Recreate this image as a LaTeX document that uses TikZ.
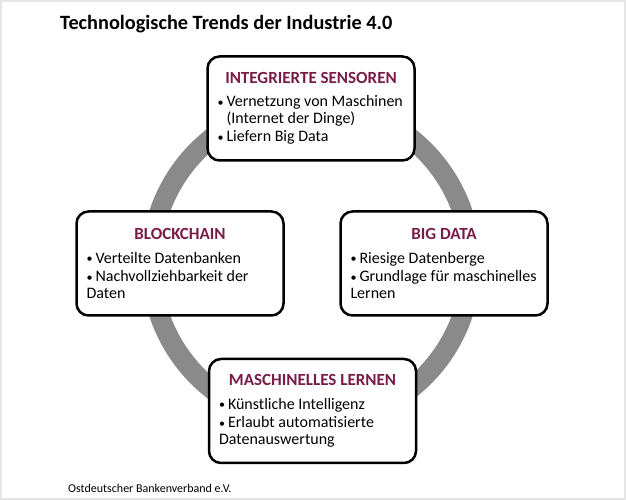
\documentclass[tikz,border=0pt]{standalone}
\usepackage{fontspec}
\setmainfont{Carlito}
\definecolor{plum}{RGB}{122,28,72}
\definecolor{ringgray}{RGB}{138,138,138}
\newcommand{\punkt}[1]{\par\vspace{2pt}\spaceskip=0pt\rightskip=0pt plus 1fil
  \hangindent=9pt\hangafter=1\noindent
  \makebox[9pt][l]{\raisebox{0.6pt}{\fontsize{12}{12}\selectfont\textbullet}}#1}
\newcommand{\kopf}[1]{{\centering\spaceskip=0pt\color{plum}\bfseries\fontsize{17}{17}\selectfont #1\par}\vspace{5pt}}

\begin{document}
\begin{tikzpicture}[x=1pt,y=1pt,
    trend/.style={draw, line width=2.5pt, rounded corners=12pt, fill=white,
      minimum width=207pt, minimum height=104pt, text width=187pt,
      align=left, inner sep=0pt, font=\fontsize{16}{16.5}\selectfont}]
      \useasboundingbox (0,0) rectangle (626,500);
      \draw[black!10, line width=1.5pt] (1,1) rectangle (625,499);
      \node[anchor=base west, inner sep=0pt, font=\bfseries\fontsize{20.3}{24}\selectfont] (titel) at (60,470)
        {Technologische Trends der Industrie 4.0};
      % ring behind the four boxes
      \coordinate (mitte) at (311,236.5);
      \draw[ringgray, line width=20pt] (mitte) circle (160);
      \node(sensoren) [trend] at (311,391.5) {\kopf{INTEGRIERTE SENSOREN}
          \punkt{Vernetzung von Maschinen\newline(Internet der Dinge)}
          \punkt{Liefern Big Data}};
      \node(blockchain) [trend] at (180,236.5) {\kopf{BLOCKCHAIN}
          \punkt{Verteilte Datenbanken}
          \punkt{Nachvollziehbarkeit der\newline Daten}};
      \node(bigdata) [trend] at (444,236.5) {\kopf{BIG DATA}
          \punkt{Riesige Datenberge}
          \punkt{Grundlage für maschinelles\newline Lernen}};
      \node(lernen) [trend] at (312.5,89) {\kopf{MASCHINELLES LERNEN}
          \punkt{Künstliche Intelligenz}
          \punkt{Erlaubt automatisierte\newline Datenauswertung}};
      \node[anchor=base west, inner sep=0pt, font=\fontsize{12}{14}\selectfont] (quelle) at (68,7)
        {Ostdeutscher Bankenverband e.V.};
    \end{tikzpicture}
\end{document}
